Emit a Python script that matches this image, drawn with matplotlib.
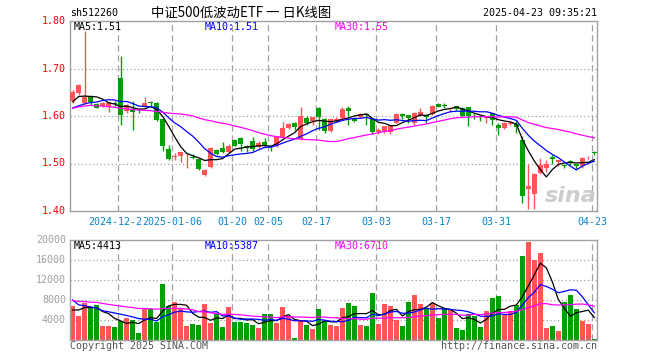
import matplotlib
matplotlib.use("Agg")
import matplotlib.pyplot as plt
import pandas as pd

W, H = 660, 360

# daily K data, index 0 = 2024-12-11 ... 87 = 2025-04-23
opens = [1.632, 1.648, 1.628, 1.640, 1.625, 1.621, 1.620, 1.628, 1.681, 1.610,
         1.613, 1.613, 1.620, 1.629, 1.628, 1.594, 1.530, 1.513, 1.516, 1.519,
         1.514, 1.509, 1.475, 1.492, 1.528, 1.533, 1.525, 1.549, 1.553, 1.537,
         1.547, 1.535, 1.546, 1.537, 1.537, 1.555, 1.575, 1.586, 1.551, 1.596,
         1.589, 1.616, 1.593, 1.568, 1.590, 1.595, 1.616, 1.593, 1.597, 1.605,
         1.593, 1.566, 1.567, 1.567, 1.586, 1.604, 1.602, 1.585, 1.600, 1.602,
         1.604, 1.625, 1.624, 1.615, 1.620, 1.616, 1.618, 1.601, 1.600, 1.595,
         1.606, 1.582, 1.574, 1.583, 1.584, 1.549, 1.446, 1.436, 1.479, 1.490,
         1.514, 1.504, 1.497, 1.505, 1.498, 1.495, 1.511, 1.525]
highs = [1.654, 1.667, 1.780, 1.645, 1.628, 1.630, 1.629, 1.632, 1.726, 1.626,
         1.632, 1.617, 1.641, 1.632, 1.630, 1.596, 1.540, 1.523, 1.525, 1.523,
         1.521, 1.511, 1.489, 1.534, 1.531, 1.546, 1.542, 1.551, 1.555, 1.539,
         1.556, 1.548, 1.554, 1.540, 1.558, 1.587, 1.585, 1.588, 1.620, 1.600,
         1.598, 1.618, 1.595, 1.595, 1.597, 1.620, 1.621, 1.598, 1.607, 1.606,
         1.595, 1.574, 1.580, 1.580, 1.606, 1.607, 1.603, 1.608, 1.616, 1.604,
         1.623, 1.627, 1.628, 1.620, 1.622, 1.618, 1.620, 1.606, 1.602, 1.600,
         1.607, 1.586, 1.587, 1.589, 1.590, 1.558, 1.500, 1.481, 1.511, 1.507,
         1.518, 1.507, 1.499, 1.507, 1.500, 1.514, 1.516, 1.526]
lows = [1.628, 1.645, 1.625, 1.623, 1.616, 1.619, 1.608, 1.620, 1.582, 1.607,
        1.570, 1.606, 1.618, 1.618, 1.590, 1.526, 1.507, 1.507, 1.504, 1.491,
        1.510, 1.487, 1.473, 1.490, 1.518, 1.522, 1.523, 1.536, 1.526, 1.525,
        1.526, 1.532, 1.532, 1.527, 1.535, 1.553, 1.573, 1.570, 1.549, 1.582,
        1.582, 1.570, 1.565, 1.566, 1.588, 1.594, 1.582, 1.588, 1.595, 1.582,
        1.563, 1.563, 1.565, 1.563, 1.585, 1.593, 1.586, 1.582, 1.599, 1.586,
        1.603, 1.618, 1.616, 1.609, 1.613, 1.598, 1.578, 1.593, 1.590, 1.585,
        1.581, 1.560, 1.572, 1.581, 1.565, 1.417, 1.405, 1.405, 1.478, 1.483,
        1.500, 1.495, 1.490, 1.497, 1.488, 1.490, 1.510, 1.518]
closes = [1.651, 1.665, 1.639, 1.629, 1.617, 1.627, 1.627, 1.626, 1.602, 1.623,
          1.609, 1.612, 1.628, 1.627, 1.592, 1.537, 1.509, 1.516, 1.524, 1.521,
          1.512, 1.488, 1.487, 1.532, 1.521, 1.524, 1.537, 1.537, 1.542, 1.532,
          1.531, 1.544, 1.540, 1.535, 1.556, 1.574, 1.583, 1.576, 1.599, 1.585,
          1.597, 1.597, 1.568, 1.593, 1.594, 1.614, 1.611, 1.589, 1.604, 1.603,
          1.567, 1.570, 1.579, 1.579, 1.604, 1.599, 1.595, 1.606, 1.608, 1.597,
          1.622, 1.620, 1.622, 1.617, 1.615, 1.599, 1.600, 1.599, 1.597, 1.598,
          1.592, 1.575, 1.586, 1.586, 1.576, 1.432, 1.453, 1.478, 1.497, 1.499,
          1.509, 1.507, 1.494, 1.502, 1.494, 1.511, 1.512, 1.522]
volumes = [6800, 4800, 7470, 6330, 7000, 2800, 2800, 2600, 3870, 4470,
           4000, 1470, 6200, 6200, 3670, 11200, 6870, 7670, 6200, 2800,
           3200, 3000, 7270, 3470, 5130, 2600, 6600, 3670, 3670, 3470,
           3000, 2470, 5200, 5200, 3470, 6600, 4870, 470, 3870, 3000,
           2200, 6200, 3870, 3000, 2800, 6400, 7400, 6800, 3000, 2800,
           9470, 3200, 7200, 6800, 4000, 2800, 7670, 9000, 7200, 6200,
           7400, 4400, 6400, 6200, 2400, 2000, 5200, 4800, 2600, 5870,
           8400, 8800, 5000, 5800, 7000, 16800, 19600, 16000, 17400, 2400,
           2800, 1800, 7600, 9000, 6200, 3870, 3200, 200]

# sessions before the visible window, only used to seed the moving averages
prev_close = [1.575, 1.585, 1.592, 1.640, 1.655, 1.662, 1.658, 1.664, 1.660, 1.652,
              1.645, 1.650, 1.642, 1.648, 1.585, 1.560, 1.548, 1.552, 1.565, 1.580,
              1.620, 1.598, 1.602, 1.605, 1.595, 1.610, 1.634, 1.634, 1.621]
prev_vol = [9500, 8200, 10500, 7800, 8900, 9200, 7600, 8400, 9800, 7340,
            7200, 6400, 8100, 5900, 6600, 7500, 6200, 7000, 6860, 7100,
            14520, 9200, 8600, 9480, 8200, 4800, 4970, 6330, 7100]

tick_pos = [8, 17, 27, 33, 41, 51, 61, 71, 87]
tick_labels = ["2024-12-23", "2025-01-06", "01-20", "02-05", "02-17",
               "03-03", "03-17", "03-31", "04-23"]

price_ticks = [1.40, 1.50, 1.60, 1.70, 1.80]
vol_ticks = [4000, 8000, 12000, 16000, 20000]

ma_periods = [5, 10, 30]
ma_colors = ["#000000", "#0000ff", "#ff00ff"]
price_ma_text = ["MA5:1.51", "MA10:1.51", "MA30:1.55"]
vol_ma_text = ["MA5:4413", "MA10:5387", "MA30:6710"]

UP = "#ff5555"
DOWN = "#00a000"
FRAME = "#a0a0a0"
MONO = "DejaVu Sans Mono"


def px(x, y):
    return x / W, 1 - y / H


def rolling(prev, vals, n):
    s = pd.Series(prev + vals, dtype=float).rolling(n).mean()
    return s.iloc[len(prev):].to_numpy()


def style_axes(ax, ylim, grid_vals):
    n = len(closes)
    ax.set_xlim(-0.45, n - 0.55)
    ax.set_ylim(*ylim)
    for sp in ax.spines.values():
        sp.set_color(FRAME)
        sp.set_linewidth(1.0)
    ax.set_xticks([])
    ax.set_yticks([])
    for p in tick_pos:
        ax.axvline(p - 0.45, color=FRAME, lw=0.9, ls=(0, (5, 3)), zorder=0)
    for v in grid_vals:
        ax.axhline(v, color=FRAME, lw=0.9, ls=(0, (1, 2)), zorder=0)


fig = plt.figure(figsize=(W / 100, H / 100), dpi=100)
ax1 = fig.add_axes([70 / W, 1 - 211 / H, 527 / W, 190 / H])
ax2 = fig.add_axes([70 / W, 1 - 340 / H, 527 / W, 100 / H])

style_axes(ax1, (1.40, 1.80), [1.50, 1.60, 1.70])
style_axes(ax2, (0, 20000), [4000, 8000, 12000, 16000])

idx = list(range(len(closes)))
cols = [UP if c >= o else DOWN for o, c in zip(opens, closes)]

# candles
ax1.vlines(idx, lows, highs, colors=cols, lw=1.0, zorder=2)
bottoms = [min(o, c) for o, c in zip(opens, closes)]
heights = [max(abs(c - o), 0.0015) for o, c in zip(opens, closes)]
ax1.bar(idx, heights, bottom=bottoms, width=0.82, color=cols, lw=0, zorder=3)

# volume bars
ax2.bar(idx, volumes, width=0.82, color=cols, lw=0, zorder=2)

for n, col in zip(ma_periods, ma_colors):
    ax1.plot(idx, rolling(prev_close, closes, n), color=col, lw=0.9, zorder=4)
    ax2.plot(idx, rolling(prev_vol, volumes, n), color=col, lw=0.9, zorder=4)

# watermark
fig.text(*px(571, 196), "sina", color="#c8c8c8", fontsize=16, fontweight="bold",
         style="italic", ha="center", va="center", alpha=0.9)

# y labels
for v in price_ticks:
    y = 211 - (v - 1.40) / 0.40 * 190
    fig.text(*px(66, y), f"{v:.2f}", color="#ff0000", fontsize=7.2,
             family=MONO, ha="right", va="center")
for v in vol_ticks:
    y = 340 - v / 20000 * 100
    fig.text(*px(66, y), f"{v}", color="#a0a0a0", fontsize=7.2,
             family=MONO, ha="right", va="center")

# date labels (the second one covers the tail of the first, as in the original)
for k, (p, lab) in enumerate(zip(tick_pos, tick_labels)):
    x = 70 + 6 * p
    fig.text(*px(x, 222), lab, color="#0a84c8", fontsize=7.2, family=MONO,
             ha="center", va="center", zorder=10 + k,
             bbox=dict(facecolor="white", edgecolor="none", pad=0.3))

# MA labels
for xp, txt, col in zip([74, 205, 335], price_ma_text, ma_colors):
    fig.text(*px(xp, 27), txt, color=col, fontsize=7.2, family=MONO,
             ha="left", va="center")
for xp, txt, col in zip([74, 205, 335], vol_ma_text, ma_colors):
    fig.text(*px(xp, 246), txt, color=col, fontsize=7.2, family=MONO,
             ha="left", va="center")

# header
fig.text(*px(70, 13), "sh512260", color="black", fontsize=7.2, family=MONO,
         ha="left", va="center")
fig.text(*px(151, 13), "中证500低波动ETF 一 日K线图", color="black", fontsize=9.6,
         family=["Noto Sans CJK SC", "DejaVu Sans"], ha="left", va="center")
fig.text(*px(597, 13), "2025-04-23 09:35:21", color="black", fontsize=7.2,
         family=MONO, ha="right", va="center")

# footer
fig.text(*px(70, 346), "Copyright 2025 SINA.COM", color="#555555", fontsize=7.2,
         family=MONO, ha="left", va="center")
fig.text(*px(597, 346), "http://finance.sina.com.cn", color="#555555", fontsize=7.2,
         family=MONO, ha="right", va="center")

fig.savefig("out.png", dpi=100)
